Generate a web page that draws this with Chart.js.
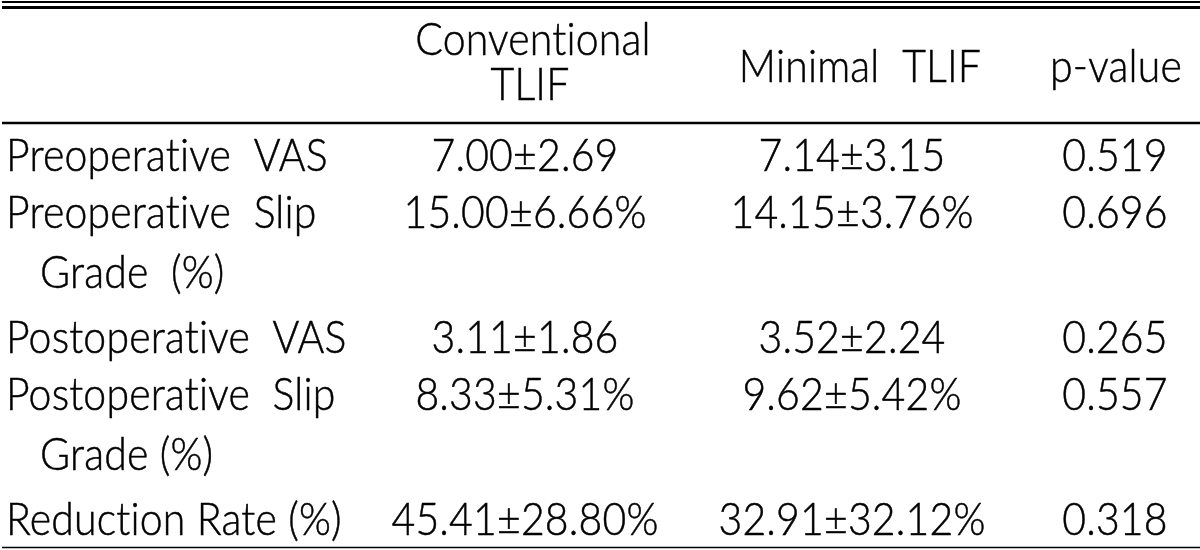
<!DOCTYPE html>
<html>
<head>
<meta charset="utf-8">
<script src="https://cdn.jsdelivr.net/npm/chart.js@4"></script>
<style>
  body { margin: 0; background: #fff; }
  #wrap { width: 1200px; height: 550px; }
</style>
</head>
<body>
<div id="wrap"><canvas id="tbl"></canvas></div>
<script>
// table content
var headers = [['Conventional', 'TLIF'], ['Minimal  TLIF'], ['p-value']];
var rowLabels = [
    ['Preoperative  VAS'],
    ['Preoperative  Slip', 'Grade  (%)'],
    ['Postoperative  VAS'],
    ['Postoperative  Slip', 'Grade (%)'],
    ['Reduction Rate (%)']
];
var conventional = ['7.00\u00b12.69', '15.00\u00b16.66%', '3.11\u00b11.86', '8.33\u00b15.31%', '45.41\u00b128.80%'];
var minimal = ['7.14\u00b13.15', '14.15\u00b13.76%', '3.52\u00b12.24', '9.62\u00b15.42%', '32.91\u00b132.12%'];
var pValues = ['0.519', '0.696', '0.265', '0.557', '0.318'];

// layout (page pixels)
var colX = [6, 525, 852, 1115];
var rowBase = [171, 228, 353, 410, 535];
var lineGap = 60;
var FONT = '300 45px Lato';
var SQUEEZE = 0.91;

var columns = [rowLabels.map(function (l) { return l[0]; }), conventional, minimal, pValues];

var datasets = columns.map(function (col, c) {
    return {
        label: 'col' + c,
        data: col.map(function (txt, r) { return { x: colX[c], y: rowBase[r], t: txt }; }),
        pointRadius: 0,
        showLine: false
    };
});

function drawText(ctx, txt, x, y) {
    ctx.save();
    ctx.translate(x, y);
    ctx.scale(SQUEEZE, 1);
    ctx.fillText(txt, 0, 0);
    ctx.strokeText(txt, 0, 0); // light weight is a touch too thin
    ctx.restore();
}

var tablePlugin = {
    id: 'tablePlugin',
    afterDatasetsDraw: function (chart) {
        var ctx = chart.ctx;
        var xs = chart.scales.x, ys = chart.scales.y;
        ctx.save();
        ctx.fillStyle = '#000';
        ctx.strokeStyle = '#000';
        ctx.lineWidth = 0.5;
        ctx.font = FONT;
        ctx.letterSpacing = '0.2px'; // keeps Lato from joining "ti"
        ctx.textBaseline = 'alphabetic';

        // rules
        function rule(y, w) {
            ctx.fillRect(xs.getPixelForValue(2), ys.getPixelForValue(y) - w / 2, xs.getPixelForValue(1200) - xs.getPixelForValue(2), w);
        }
        rule(2, 2);
        rule(7.5, 3);
        rule(123, 2.5);
        rule(547.5, 1.5);

        // header
        ctx.textAlign = 'center';
        drawText(ctx, headers[0][0], xs.getPixelForValue(533), ys.getPixelForValue(55));
        drawText(ctx, headers[0][1], xs.getPixelForValue(530), ys.getPixelForValue(100));
        drawText(ctx, headers[1][0], xs.getPixelForValue(860), ys.getPixelForValue(82));
        drawText(ctx, headers[2][0], xs.getPixelForValue(1116), ys.getPixelForValue(82));

        chart.data.datasets.forEach(function (ds, c) {
            var meta = chart.getDatasetMeta(c);
            ctx.textAlign = c === 0 ? 'left' : 'center';
            meta.data.forEach(function (pt, r) {
                drawText(ctx, ds.data[r].t, pt.x, pt.y);
                if (c === 0 && rowLabels[r].length > 1) {
                    drawText(ctx, rowLabels[r][1], pt.x + 34, pt.y + lineGap);
                }
            });
        });
        ctx.restore();
    }
};

new Chart('tbl', {
    type: 'scatter',
    data: { datasets: datasets },
    options: {
        responsive: true,
        maintainAspectRatio: false,
        animation: false,
        layout: { padding: 0 },
        plugins: { legend: { display: false }, tooltip: { enabled: false } },
        scales: {
            x: { type: 'linear', min: 0, max: 1200, display: false },
            y: { type: 'linear', min: 0, max: 550, reverse: true, display: false }
        }
    },
    plugins: [tablePlugin]
});
</script>
</body>
</html>
